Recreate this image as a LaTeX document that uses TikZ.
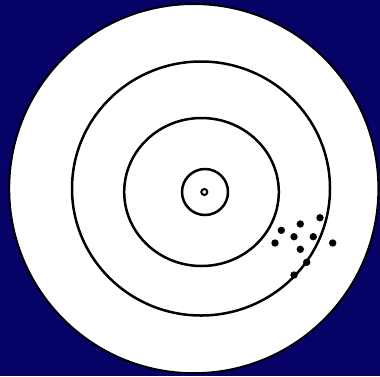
\documentclass[tikz,border=0pt]{standalone}
\definecolor{bgnavy}{RGB}{6,2,102}
\begin{document}
\begin{tikzpicture}[x=1pt,y=-1pt,
  ring/.style={draw=black,line width=2.5pt},
  hit/.style={fill=black}]
\fill[bgnavy] (0,0) rectangle (380,376);
\useasboundingbox (0,0) rectangle (380,376);
\begin{scope}
\clip (0,0) rectangle (380,376);
\fill[white,draw=black,line width=2pt] (193.8,188.6) circle (184.6);
\end{scope}
\draw[ring] (201,188.5) ellipse (129 and 127);
\draw[ring] (201.5,192) ellipse (77.3 and 74);
\draw[ring] (205,192) circle (23);
\draw[line width=2pt] (204.3,192) circle (3);
\foreach \p/\q in {320/217.7,300.3/224,281.3/230.3,294/236.7,313.3/236.7,275/243,332.7/243,300.3/249.3,306.7/262.3,294/275}
  \fill[hit] (\p,\q) circle (3.7);
\end{tikzpicture}
\end{document}
